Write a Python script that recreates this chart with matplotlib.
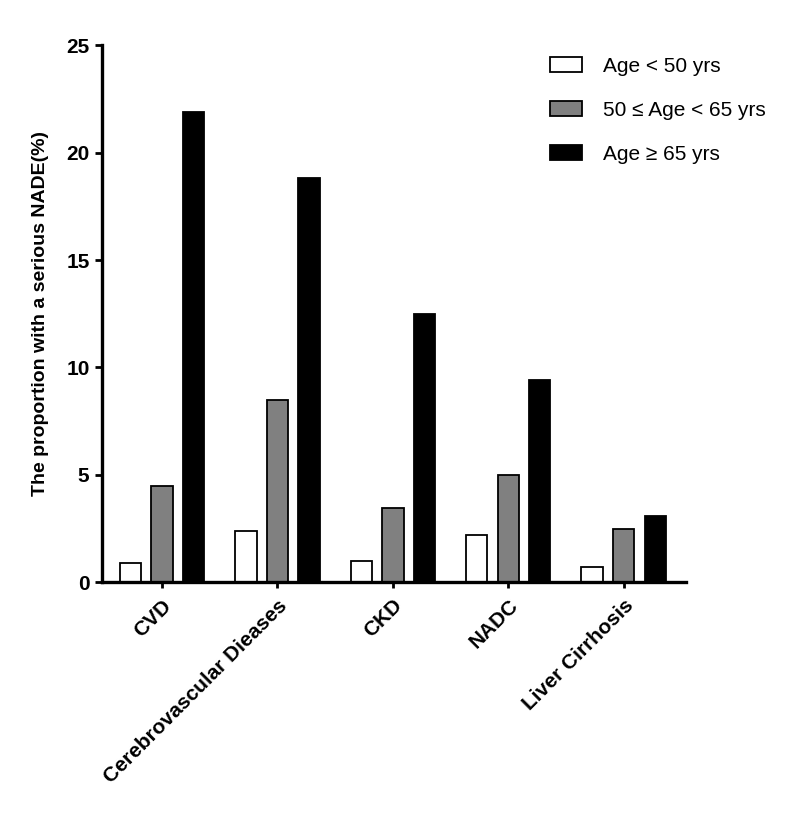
import matplotlib

matplotlib.use("Agg")
import matplotlib.pyplot as plt
import numpy as np

plt.rcParams["font.family"] = ["Liberation Sans", "DejaVu Sans"]

# proportions (%)
categories = ["CVD", "Cerebrovascular Dieases", "CKD", "NADC", "Liver Cirrhosis"]
age_under_50 = [0.88, 2.37, 0.98, 2.17, 0.68]
age_50_to_65 = [4.49, 8.47, 3.46, 4.98, 2.46]
age_over_65 = [21.9, 18.8, 12.47, 9.39, 3.08]
series_labels = ["Age < 50 yrs", "50 \u2264 Age < 65 yrs", "Age \u2265 65 yrs"]
series_colours = ["white", "#808080", "black"]
y_ticks = [0, 5, 10, 15, 20, 25]

fig = plt.figure(figsize=(8, 8.25), dpi=100)
ax = fig.add_axes([0.1275, 0.2945, 0.73, 0.6505])

x = np.arange(len(categories))
width = 0.185
offset = 0.273
for i, (vals, lab, col) in enumerate(
    zip([age_under_50, age_50_to_65, age_over_65], series_labels, series_colours)
):
    ax.bar(
        x + (i - 1) * offset,
        vals,
        width=width,
        color=col,
        edgecolor="black",
        linewidth=1.3,
        label=lab,
    )

ax.set_xlim(-0.52, 4.54)
ax.set_ylim(0, 25)
ax.set_yticks(y_ticks)
ax.set_yticklabels([str(t) for t in y_ticks], fontsize=15, fontweight="bold")
ax.set_xticks(x)
ax.set_xticklabels(
    categories,
    rotation=45,
    ha="right",
    rotation_mode="anchor",
    fontsize=15,
    fontweight="bold",
)
ax.set_ylabel(
    "The proportion with a serious NADE(%)", fontsize=14, fontweight="bold", labelpad=12
)

for side in ["top", "right"]:
    ax.spines[side].set_visible(False)
for side in ["left", "bottom"]:
    ax.spines[side].set_linewidth(2.4)
ax.tick_params(axis="y", width=2, length=5, pad=4)
ax.tick_params(axis="x", width=2, length=4, pad=6)

ax.legend(
    loc="upper left",
    bbox_to_anchor=(0.664, 0.954),
    bbox_transform=fig.transFigure,
    frameon=False,
    fontsize=15,
    handlelength=1.55,
    handleheight=0.72,
    handletextpad=1.0,
    labelspacing=1.2,
)

fig.savefig("out.png", dpi=100)
